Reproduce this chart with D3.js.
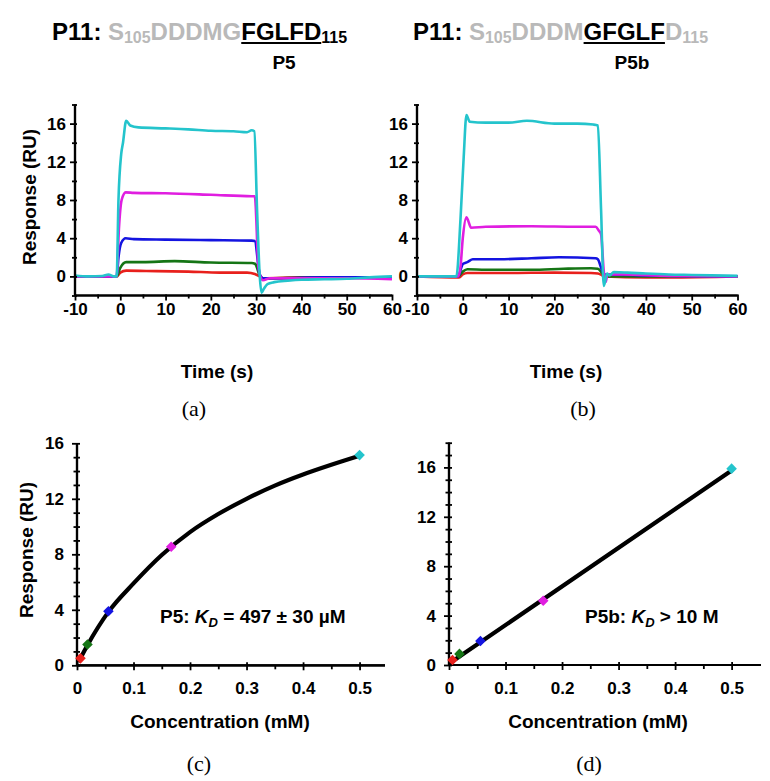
<!DOCTYPE html>
<html><head><meta charset="utf-8">
<script src="https://cdn.jsdelivr.net/npm/d3@7/dist/d3.min.js"></script>
<style>body{margin:0;background:#fff}svg{display:block}</style>
</head><body><svg id="c" width="770" height="781"></svg>
<script>
// ---------- data ----------
const seriesNames = ["red","green","blue","magenta","cyan"];
const seriesColors = ["#e8201c","#157515","#1414e0","#e01ee0","#24c4cc"];
const concentrations = [0.00617, 0.0185, 0.0556, 0.1667, 0.5];
const respP5 = [0.5, 1.5, 3.9, 8.55, 15.15];
const respP5b = [0.4, 0.9, 1.95, 5.2, 15.9];
const fitP5x = [0.004, 0.0185, 0.0556, 0.1, 0.15, 0.2, 0.25, 0.3, 0.35, 0.4, 0.45, 0.5];
const fitP5y = [0.35, 1.45, 3.85, 5.9, 7.95, 9.6, 10.9, 12.0, 12.95, 13.75, 14.45, 15.1];
const fitP5bx = [0.003, 0.5];
const fitP5by = [0.2, 15.75];

const aRed = [[-10,0],[-0.8,0],[0,0.4],[1.3,0.6],[8,0.55],[15,0.5],[22,0.4],[28,0.4],[29.7,0.25],[30.8,0],[31.5,-0.2],[40,-0.1],[60,-0.1]];
const aGreen = [[-10,0],[-0.8,0],[0,0.9],[1.3,1.5],[5,1.5],[12,1.6],[20,1.45],[29,1.4],[29.8,1.3],[30.8,0.1],[31.5,-0.2],[40,-0.15],[60,-0.1]];
const aBlue = [[-10,0],[-0.8,0],[-0.4,2],[0.2,3.5],[1.2,4.0],[3,3.9],[10,3.85],[20,3.8],[29,3.75],[29.7,3.7],[30.8,0.2],[31.5,-0.2],[35,-0.2],[45,-0.1],[60,-0.1]];
const aMagenta = [[-10,0],[-2,0],[-0.8,0],[-0.3,5],[0.3,8],[1.2,8.8],[3,8.75],[10,8.7],[20,8.55],[29,8.4],[29.7,8.4],[30.5,1],[31,-0.1],[31.5,-0.4],[33,-0.2],[40,-0.2],[50,-0.2],[60,-0.3]];
const aCyan = [[-10,0.1],[-7,0],[-4,0.05],[-2.6,0.2],[-1.5,0],[-0.8,0],[-0.4,8],[0.2,12.8],[0.6,14],[1.3,16.3],[2.2,15.8],[4,15.6],[10,15.5],[15,15.4],[20,15.25],[25,15.2],[28,15.1],[29,15.3],[29.6,15.2],[30.2,7],[30.8,0],[31.2,-1.7],[31.7,-1.3],[32.5,-0.8],[34,-0.6],[37,-0.45],[40,-0.35],[45,-0.3],[50,-0.25],[55,-0.1],[60,0]];

const bRed = [[-10,0],[-0.8,-0.1],[0,0.2],[1,0.35],[10,0.35],[20,0.4],[28,0.35],[29.5,0.3],[30.5,0.1],[31,0],[40,-0.1],[45,-0.1],[60,0]];
const bGreen = [[-10,0],[-1,0],[0,0.5],[1,0.75],[5,0.7],[15,0.7],[22,0.8],[28,0.85],[29.5,0.8],[30.5,0.3],[31,0],[35,0],[60,0]];
const bBlue = [[-10,0],[-1,0],[-0.4,0.8],[0,1.3],[1,1.5],[2.2,1.8],[8,1.8],[15,1.9],[21,2.0],[29,1.9],[29.5,1.8],[30.3,0.8],[31,0.2],[32,0.2],[40,0.1],[60,0]];
const bMagenta = [[-10,0],[-1,0],[-0.5,1],[0,4],[0.8,6.2],[1.2,5.8],[1.8,5.1],[5,5.2],[15,5.25],[25,5.2],[29,5.2],[29.7,4.8],[30.2,4.4],[30.8,0.5],[31.2,-0.6],[31.6,0.2],[35,0.2],[45,0.05],[60,0]];
const bCyan = [[-10,0],[-5,0],[-2,0],[-1.4,0],[-0.5,6],[0.2,12.5],[0.8,16.9],[1.5,16.2],[5,16.1],[10,16.1],[14,16.3],[20,16.0],[25,16.0],[28.5,15.9],[29.5,15.8],[30.2,7],[30.8,-1.0],[31.5,0.3],[32,0.1],[33,0.45],[36,0.4],[40,0.3],[45,0.2],[50,0.15],[60,0.05]];

const timeTicks = [-10,0,10,20,30,40,50,60];
const timeMinor = [-5,5,15,25,35,45,55];
const respTicksAB = [0,4,8,12,16];
const respMinorAB = [-2,2,6,10,14,18];
const concTicks = [0,0.1,0.2,0.3,0.4,0.5];
const concMinor = [0.05,0.15,0.25,0.35,0.45];
const respTicksCD = [0,4,8,12,16];
const respMinorC = [1,2,3,5,6,7,9,10,11,13,14,15];
const respMinorD = [1,2,3,5,6,7,9,10,11,13,14,15,17,18];

// ---------- drawing ----------
const svg = d3.select("#c");
const FONT = '"Liberation Sans",Arial,sans-serif';
const SERIF = '"Liberation Serif","DejaVu Serif",serif';
const intFmt = d => (d<0?"-":"") + Math.abs(d);

function drawAxes(g, x, y, xt, xm, yt, ym, xFmt, opts){
  const ax = g.append("g").attr("transform",`translate(0,${y.range()[0]})`)
    .call(d3.axisBottom(x).tickValues(xt).tickSize(opts.xMaj).tickPadding(opts.xPad).tickFormat(xFmt));
  const axm = g.append("g").attr("transform",`translate(0,${y.range()[0]})`)
    .call(d3.axisBottom(x).tickValues(xm).tickSize(opts.xMin).tickFormat(""));
  ax.selectAll(".tick line").attr("y1",-opts.xUp);
  axm.selectAll(".tick line").attr("y1",-opts.xUpMin);
  const ay = g.append("g").attr("transform",`translate(${x.range()[0]},0)`)
    .call(d3.axisLeft(y).tickValues(yt).tickSize(opts.yMaj).tickPadding(opts.yPad).tickFormat(intFmt));
  const aym = g.append("g").attr("transform",`translate(${x.range()[0]},0)`)
    .call(d3.axisLeft(y).tickValues(ym).tickSize(opts.yMin).tickFormat(""));
  ay.selectAll(".tick line").attr("x1",opts.yRight);
  aym.selectAll(".tick line").attr("x1",opts.yRight);
  [ax,axm,ay,aym].forEach(a=>{
    a.attr("font-family",null).attr("font-size",null);
    a.select(".domain").attr("stroke","#000").attr("stroke-width",2.2);
    a.selectAll(".tick line").attr("stroke","#000").attr("stroke-width",1.8);
    a.selectAll("text").attr("fill","#000").style("font-family",FONT).style("font-weight","bold").style("font-size","17px");
  });
  [ax,axm].forEach(a=>a.select(".domain").attr("d",`M${x.range()[0]},0H${x.range()[1]}`));
  [ay,aym].forEach(a=>a.select(".domain").attr("d",`M0,${y.range()[0]}V${y.range()[1]}`));
}

function label(txt, x, y, size, opts={}){
  const t = svg.append("text").attr("x",x).attr("y",y).attr("text-anchor",opts.anchor||"middle")
    .style("font-size",size+"px").style("font-weight",opts.weight||"bold").style("font-family",opts.family||FONT)
    .attr("fill","#000").text(txt);
  if(opts.rotate) t.attr("transform",`rotate(-90,${x},${y})`);
  return t;
}

// ----- Panels (a) and (b) -----
const xA = d3.scaleLinear().domain([-10,60]).range([75,392]);
const xB = d3.scaleLinear().domain([-10,60]).range([417,737.5]);
const yAB = d3.scaleLinear().domain([-2,18]).range([295.5,104.5]);
const abOpts = {xMaj:5, xMin:3, xUp:1, xUpMin:1, xPad:2, yMaj:5, yMin:3, yRight:2, yPad:4};
const gA = svg.append("g"), gB = svg.append("g");
const seriesA = [aRed,aGreen,aBlue,aMagenta,aCyan];
const seriesB = [bRed,bGreen,bBlue,bMagenta,bCyan];
function drawSensor(g, x, data){
  const line = d3.line().x(d=>x(d[0])).y(d=>yAB(d[1])).curve(d3.curveMonotoneX);
  data.forEach((s,i)=>{
    g.append("path").datum(s).attr("d",line).attr("fill","none")
     .attr("stroke",seriesColors[i]).attr("stroke-width",2.6).attr("stroke-linejoin","round");
  });
}
drawSensor(gA, xA, seriesA);
drawSensor(gB, xB, seriesB);
drawAxes(gA, xA, yAB, timeTicks, timeMinor, respTicksAB, respMinorAB, intFmt, abOpts);
drawAxes(gB, xB, yAB, timeTicks, timeMinor, respTicksAB, respMinorAB, intFmt, abOpts);

label("Time (s)", 217, 378, 19);
label("Time (s)", 566, 378, 19);
label("Response (RU)", 36, 197, 19, {rotate:true});
label("(a)", 194, 416, 22, {weight:"normal", family:SERIF});
label("(b)", 583, 416, 22, {weight:"normal", family:SERIF});

// ----- Titles -----
const GRAY = "#b9b9b9";
function title(x0, pieces){
  let x = x0;
  pieces.forEach(p=>{
    const t = svg.append("text").attr("x",x).attr("y",p.sub?43:40)
      .style("font-size",(p.sub?16:24)+"px").style("font-weight","bold").style("font-family",FONT)
      .attr("fill",p.c).text(p.t);
    const w = t.node().getComputedTextLength();
    if(p.u) svg.append("line").attr("x1",x).attr("x2",x+w).attr("y1",43).attr("y2",43)
      .attr("stroke","#000").attr("stroke-width",2.2);
    x += w + (p.gap||0);
  });
}
const titleA = [{t:"P11:",c:"#000",gap:6.5},{t:"S",c:GRAY},{t:"105",c:GRAY,sub:true},{t:"DDDMG",c:GRAY},{t:"FGLFD",c:"#000",u:true},{t:"115",c:"#000",sub:true}];
const titleB = [{t:"P11:",c:"#000",gap:6.5},{t:"S",c:GRAY},{t:"105",c:GRAY,sub:true},{t:"DDDM",c:GRAY},{t:"GFGLF",c:"#000",u:true},{t:"D",c:GRAY},{t:"115",c:GRAY,sub:true}];
title(52, titleA);
title(413, titleB);
label("P5", 284, 69, 19);
label("P5b", 632, 69, 19);

// ----- Panels (c) and (d) -----
const xC = d3.scaleLinear().domain([0,0.545]).range([77,385]);
const yC = d3.scaleLinear().domain([0,16]).range([665.3,443.3]);
const xD = d3.scaleLinear().domain([0,0.552]).range([449,761]);
const yD = d3.scaleLinear().domain([0,18]).range([665,442.7]);
const cdOpts = {xMaj:5, xMin:4, xUp:3, xUpMin:0, xPad:12, yMaj:5, yMin:3.5, yRight:3, yPad:8};
const gC = svg.append("g"), gD = svg.append("g");
const concFmt = d=>d===0?"0":d3.format(".1f")(d);
drawAxes(gC, xC, yC, concTicks, concMinor, respTicksCD, respMinorC, concFmt, cdOpts);
drawAxes(gD, xD, yD, concTicks, concMinor, respTicksCD, respMinorD, concFmt, cdOpts);

function drawFit(g, x, y, fx, fy, resp){
  const pts = fx.map((v,i)=>[v,fy[i]]);
  g.append("path").datum(pts).attr("d",d3.line().x(d=>x(d[0])).y(d=>y(d[1])).curve(d3.curveMonotoneX))
    .attr("fill","none").attr("stroke","#000").attr("stroke-width",4.2).attr("stroke-linecap","round");
  const sym = d3.symbol().type(d3.symbolSquare).size(56);
  concentrations.forEach((c,i)=>{
    g.append("path").attr("d",sym()).attr("fill",seriesColors[i])
      .attr("transform",`translate(${x(c)},${y(resp[i])}) rotate(45)`);
  });
}
drawFit(gC, xC, yC, fitP5x, fitP5y, respP5);
drawFit(gD, xD, yD, fitP5bx, fitP5by, respP5b);

label("Concentration (mM)", 220, 728, 19);
label("Concentration (mM)", 598, 728, 19);
label("Response (RU)", 33, 550, 19, {rotate:true});
label("(c)", 199, 771, 22, {weight:"normal", family:SERIF});
label("(d)", 589, 771, 22, {weight:"normal", family:SERIF});

// KD annotations
function kd(x0, y0, pre, post){
  const t = svg.append("text").attr("x",x0).attr("y",y0).style("font-size","19px").style("font-weight","bold")
    .style("font-family",FONT).attr("fill","#000");
  t.append("tspan").text(pre);
  t.append("tspan").style("font-style","italic").text("K");
  t.append("tspan").style("font-style","italic").style("font-size","13px").attr("dy",4).text("D");
  t.append("tspan").attr("dy",-4).text(post);
}
kd(160, 623, "P5: ", " = 497 ± 30 µM");
kd(585, 623, "P5b: ", " > 10 M");
</script></body></html>
